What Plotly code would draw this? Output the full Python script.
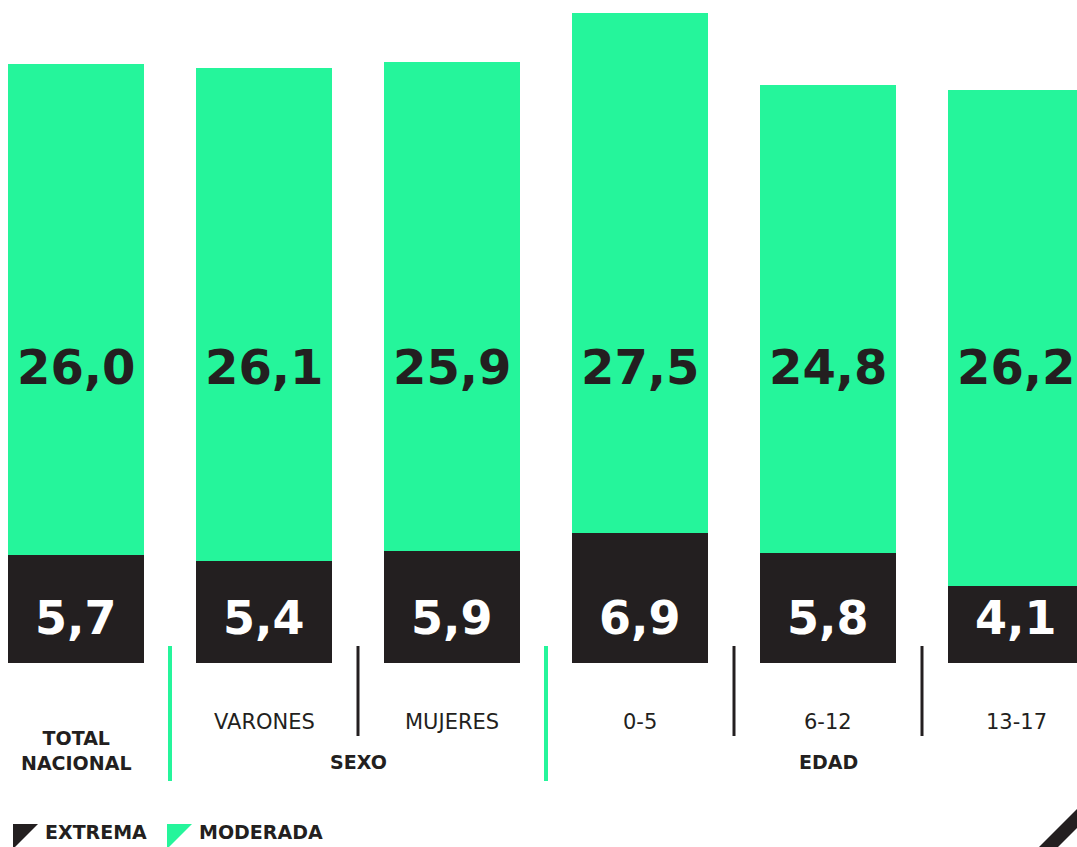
import plotly.graph_objects as go

# ---- data ----
categories = ["TOTAL NACIONAL", "VARONES", "MUJERES", "0-5", "6-12", "13-17"]
cat_labels = ["<b>TOTAL<br>NACIONAL</b>", "VARONES", "MUJERES", "0-5", "6-12", "13-17"]
extrema = [5.7, 5.4, 5.9, 6.9, 5.8, 4.1]
moderada = [26.0, 26.1, 25.9, 27.5, 24.8, 26.2]
groups = ["SEXO", "EDAD"]
group_pos = [1.5, 4.0]

GREEN = "#25F59B"
DARK = "#231F20"
FONT = "DejaVu Sans"

W, H = 1077, 847
PLOT_BOTTOM = 663  # pixel row of the baseline


def fmt(v):
    return f"{v:.1f}".replace(".", ",")


def px2x(px):
    return px / W


def py2y(py):
    return (PLOT_BOTTOM - py) / PLOT_BOTTOM


xs = list(range(len(categories)))

fig = go.Figure()
fig.add_trace(go.Bar(x=xs, y=extrema, marker=dict(color=DARK, line=dict(width=0)),
                     width=0.7234, name="EXTREMA", hoverinfo="skip"))
fig.add_trace(go.Bar(x=xs, y=moderada, marker=dict(color=GREEN, line=dict(width=0)),
                     width=0.7234, name="MODERADA", hoverinfo="skip"))

annotations = []
# value labels
for i, (e, m) in enumerate(zip(extrema, moderada)):
    annotations.append(dict(x=i, y=py2y(367), xref="x", yref="paper", text=f"<b>{fmt(m)}</b>",
                            showarrow=False, font=dict(family=FONT, size=48, color=DARK),
                            xanchor="center", yanchor="middle"))
    annotations.append(dict(x=i, y=py2y(618), xref="x", yref="paper", text=f"<b>{fmt(e)}</b>",
                            showarrow=False, font=dict(family=FONT, size=46, color="white"),
                            xanchor="center", yanchor="middle"))

# category labels
for i, lab in enumerate(cat_labels):
    yy = py2y(750) if i == 0 else py2y(722)
    size = 19 if i == 0 else 21
    annotations.append(dict(x=i, y=yy, xref="x", yref="paper", text=lab, showarrow=False,
                            font=dict(family=FONT, size=size, color=DARK),
                            xanchor="center", yanchor="middle"))
for g, gp in zip(groups, group_pos):
    annotations.append(dict(x=gp, y=py2y(762), xref="x", yref="paper", text=f"<b>{g}</b>",
                            showarrow=False, font=dict(family=FONT, size=19, color=DARK),
                            xanchor="center", yanchor="middle"))

# legend texts
annotations.append(dict(x=px2x(43), y=py2y(832), xref="paper", yref="paper", text="<b>EXTREMA</b>",
                        showarrow=False, font=dict(family=FONT, size=19, color=DARK),
                        xanchor="left", yanchor="middle"))
annotations.append(dict(x=px2x(197), y=py2y(832), xref="paper", yref="paper", text="<b>MODERADA</b>",
                        showarrow=False, font=dict(family=FONT, size=19, color=DARK),
                        xanchor="left", yanchor="middle"))

shapes = []
# separators
sep_colors = [GREEN, DARK, GREEN, DARK, DARK]
for k, c in enumerate(sep_colors):
    bottom = 781 if c == GREEN else 736
    shapes.append(dict(type="line", xref="x", yref="paper", x0=k + 0.5, x1=k + 0.5,
                       y0=py2y(646), y1=py2y(bottom),
                       line=dict(color=c, width=4 if c == GREEN else 3)))


def tri(x0, color):
    p = (f"M {px2x(x0)},{py2y(824)} L {px2x(x0 + 25)},{py2y(824)} "
         f"L {px2x(x0)},{py2y(849)} Z")
    return dict(type="path", xref="paper", yref="paper", path=p,
                fillcolor=color, line=dict(width=0))


shapes.append(tri(13, DARK))
shapes.append(tri(167, GREEN))
# decorative stripe bottom-right
stripe = (f"M {px2x(1038)},{py2y(848)} L {px2x(1078)},{py2y(808)} "
          f"L {px2x(1078)},{py2y(827)} L {px2x(1057)},{py2y(848)} Z")
shapes.append(dict(type="path", xref="paper", yref="paper", path=stripe,
                   fillcolor=DARK, line=dict(width=0)))

fig.update_layout(
    barmode="stack",
    width=W, height=H,
    margin=dict(l=0, r=0, t=0, b=H - PLOT_BOTTOM, pad=0),
    paper_bgcolor="white", plot_bgcolor="white",
    showlegend=False,
    xaxis=dict(range=[-76 / 188, (W - 76) / 188], visible=False, fixedrange=True),
    yaxis=dict(range=[0, PLOT_BOTTOM / 18.9], visible=False, fixedrange=True),
    annotations=annotations,
    shapes=shapes,
)

fig.write_html("out.html",
               config={"displayModeBar": False},
               post_script="document.body.style.margin='0';document.body.style.overflow='hidden';")
